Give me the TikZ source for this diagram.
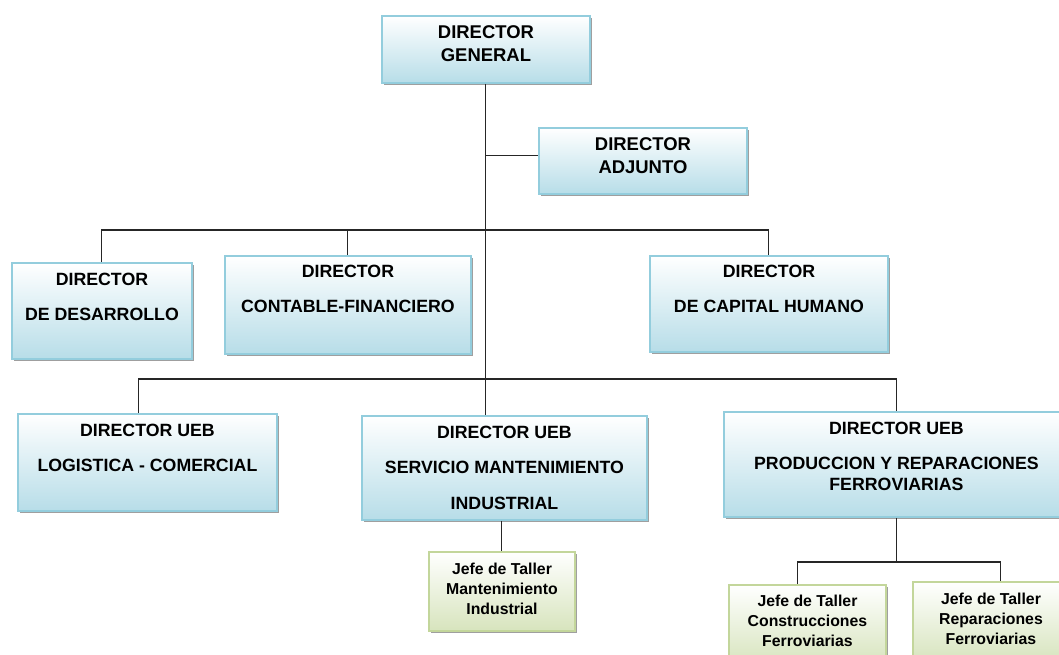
\documentclass[tikz,border=0pt]{standalone}
\usepackage{fontspec}
\setmainfont{Liberation Sans}
\usetikzlibrary{positioning,shadows}
\definecolor{bordeazul}{HTML}{93CDDD}
\definecolor{fondoazul}{HTML}{B7DDE8}
\definecolor{bordeverde}{HTML}{C3D69B}
\definecolor{fondoverde}{HTML}{D7E4BD}
\tikzset{
  caja/.style={draw=bordeazul, line width=1.1pt, top color=white, bottom color=fondoazul,
    anchor=north west, inner sep=0pt,
    drop shadow={shadow xshift=0.04cm, shadow yshift=-0.04cm, fill=gray!75, opacity=1}},
  cajav/.style={caja, draw=bordeverde, bottom color=fondoverde},
  texto/.style={align=center, inner sep=0pt, font=\bfseries\fontsize{10.1}{12}\selectfont},
  textog/.style={texto, font=\bfseries\fontsize{10.5}{13}\selectfont},
  textov/.style={texto, font=\bfseries\fontsize{9}{11.4}\selectfont},
  linea/.style={line width=0.6pt, black!85}
}
\begin{document}
\begin{tikzpicture}[x=0.02cm,y=-0.02cm]
    \clip (0,0) rectangle (1059,655);
    % Direccion
    \node[caja, minimum width=4.16cm, minimum height=1.34cm] (dg) at (381,15) {};
    \node[textog, below=0.21cm of dg.north] (dgt) {DIRECTOR\\GENERAL};
    \node[caja, minimum width=4.16cm, minimum height=1.32cm] (da) at (538,127) {};
    \node[textog, below=0.21cm of da.north] (dat) {DIRECTOR\\ADJUNTO};
    % Directores funcionales
    \node[caja, minimum width=3.6cm, minimum height=1.92cm] (dd) at (11,262) {};
    \node[texto, below=0.22cm of dd.north] (ddt) {DIRECTOR\\[8pt]DE DESARROLLO};
    \node[caja, minimum width=4.92cm, minimum height=1.96cm] (dcf) at (224,255) {};
    \node[texto, below=0.2cm of dcf.north] (dcft) {DIRECTOR\\[8pt]CONTABLE-FINANCIERO};
    \node[caja, minimum width=4.76cm, minimum height=1.92cm] (dch) at (649,255) {};
    \node[texto, below=0.2cm of dch.north] (dcht) {DIRECTOR\\[8pt]DE CAPITAL HUMANO};
    % Directores UEB
    \node[caja, minimum width=5.18cm, minimum height=1.94cm] (lc) at (17,413) {};
    \node[texto, below=0.22cm of lc.north] (lct) {DIRECTOR UEB\\[8pt]LOGISTICA - COMERCIAL};
    \node[caja, minimum width=5.7cm, minimum height=2.08cm] (smi) at (361,415) {};
    \node[texto, below=0.22cm of smi.north] (smit) {DIRECTOR UEB\\[8pt]SERVICIO MANTENIMIENTO\\[8pt]INDUSTRIAL};
    \node[caja, minimum width=6.9cm, minimum height=2.1cm] (prf) at (723,411) {};
    \node[texto, below=0.22cm of prf.north] (prft) {DIRECTOR UEB\\[8pt]PRODUCCION Y REPARACIONES\\FERROVIARIAS};
    % Jefes de taller
    \node[cajav, minimum width=2.92cm, minimum height=1.58cm] (jmi) at (428,551) {};
    \node[textov, below=0.24cm of jmi.north] (jmit) {Jefe de Taller\\Mantenimiento\\Industrial};
    \node[cajav, minimum width=3.14cm, minimum height=1.6cm] (jcf) at (728,584) {};
    \node[textov, below=0.22cm of jcf.north] (jcft) {Jefe de Taller\\Construcciones\\Ferroviarias};
    \node[cajav, minimum width=3.12cm, minimum height=1.6cm] (jrf) at (912,581) {};
    \node[textov, below=0.24cm of jrf.north] (jrft) {Jefe de Taller\\Reparaciones\\Ferroviarias};
    % Lineas de mando
    \coordinate (bus1) at (486,230);
    \coordinate (bus2) at (486,379);
    \coordinate (bus3) at (898,562);
    \draw[linea] (dg.south) -- (dg.south |- smi.north);
    \draw[linea] ([yshift=0.1cm]da.west -| dg.south) -- ([yshift=0.1cm]da.west);
    \draw[linea] (dd.north) |- (bus1) -| (dch.north);
    \draw[linea] (dcf.north) -- (dcf.north |- bus1);
    \draw[linea] ([xshift=-0.17cm]lc.north) |- (bus2) -| (prf.north);
    \draw[linea] (smi.south -| jmi.north) -- (jmi.north);
    \draw[linea] (prf.south) -- (prf.south |- bus3);
    \draw[linea] ([xshift=-0.19cm]jcf.north) |- (bus3) -| ([xshift=0.2cm]jrf.north);
\end{tikzpicture}
\end{document}
